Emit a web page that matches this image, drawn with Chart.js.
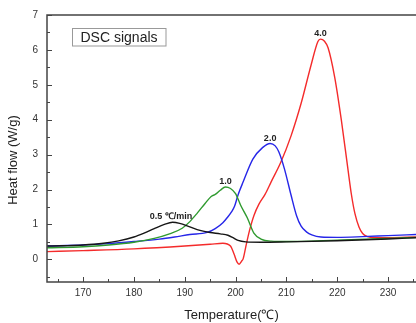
<!DOCTYPE html>
<html>
<head>
<meta charset="utf-8">
<script src="https://cdn.jsdelivr.net/npm/chart.js@4"></script>
<style>
html,body{margin:0;padding:0;background:#fff;}
canvas{display:block;}
</style>
</head>
<body>
<canvas id="c" width="416" height="323"></canvas>
<script>
// ---- data (temperature in °C, heat flow in W/g) ----
const blackT = [162.9,166,170,174,177,180,182,184,186,187.6,189,191,193,195,197,198.5,199.5,200.5,202,205,210,220,230,235.5];
const blackV = [0.38,0.39,0.41,0.46,0.53,0.64,0.75,0.88,1.0,1.06,1.03,0.93,0.83,0.77,0.73,0.69,0.62,0.54,0.50,0.49,0.50,0.53,0.58,0.62];

const greenT = [162.9,170,175,180,184,187,189.5,191,192.5,194,195.2,196,197,198,199,200,201,202.3,203.6,205,207,210,220,230,235.5];
const greenV = [0.33,0.36,0.41,0.49,0.60,0.73,0.89,1.08,1.33,1.60,1.80,1.86,1.98,2.07,2.03,1.88,1.55,1.19,0.75,0.58,0.52,0.51,0.55,0.60,0.63];

const blueT = [162.9,170,175,180,185,188,191,194.4,196,197.5,198.5,199.2,199.8,200.5,201.5,203.4,205.3,206.8,207.8,208.5,209.6,210.9,212,212.9,214,215,216.8,220,225,230,235.5];
const blueV = [0.38,0.41,0.45,0.51,0.58,0.64,0.71,0.77,0.88,1.05,1.22,1.36,1.52,1.85,2.22,2.87,3.20,3.32,3.25,3.08,2.60,1.85,1.25,0.95,0.78,0.70,0.64,0.63,0.65,0.68,0.71];

const redT = [162.9,170,180,190,195,197.5,199,199.7,200.3,200.7,201.2,201.5,202,202.7,203.6,204.6,205.8,207,208.9,210.9,212.9,214.9,216.2,216.7,217.5,218.2,219.5,220.8,222.1,222.8,223.5,224.3,225,226,227,230,235.5];
const redV = [0.22,0.25,0.30,0.38,0.43,0.46,0.38,0.15,-0.08,-0.14,-0.05,0.02,0.35,0.80,1.25,1.58,1.86,2.22,2.78,3.53,4.47,5.59,6.24,6.31,6.25,6.06,5.22,4.00,2.59,1.85,1.30,0.92,0.74,0.65,0.62,0.62,0.64];

const peakLabels = ['0.5 \u2103/min','1.0','2.0','4.0'];
const peakLabelT = [187.3,198.0,206.8,216.7];
const peakLabelV = [1.23,2.22,3.47,6.47];

const xMajorTicks = [170,180,190,200,210,220,230];
const xMinorTicks = [165,175,185,195,205,215,225,235];
const yMajorTicks = [0,1,2,3,4,5,6,7];
const yMinorTicks = [-0.5,0.5,1.5,2.5,3.5,4.5,5.5,6.5];
const xRange = [162.9,235.5];
const yRange = [-0.65,7];

function pts(T,V){return T.map((t,i)=>({x:t,y:V[i]}));}

const FONT = '"Liberation Sans", Arial, sans-serif';

const decor = {
  id:'decor',
  afterDatasetsDraw(chart){
    const ctx = chart.ctx, a = chart.chartArea;
    const xs = chart.scales.x, ys = chart.scales.y;
    ctx.save();
    // ticks (inward)
    ctx.strokeStyle = '#444'; ctx.lineWidth = 1;
    ctx.beginPath();
    xMajorTicks.forEach(v=>{const p=Math.round(xs.getPixelForValue(v))+0.5; ctx.moveTo(p,a.bottom); ctx.lineTo(p,a.bottom-5);});
    xMinorTicks.forEach(v=>{const p=Math.round(xs.getPixelForValue(v))+0.5; if(p<a.right){ctx.moveTo(p,a.bottom); ctx.lineTo(p,a.bottom-3);}});
    yMajorTicks.forEach(v=>{const p=Math.round(ys.getPixelForValue(v))+0.5; ctx.moveTo(a.left,p); ctx.lineTo(a.left+5,p);});
    yMinorTicks.forEach(v=>{const p=Math.round(ys.getPixelForValue(v))+0.5; ctx.moveTo(a.left,p); ctx.lineTo(a.left+3,p);});
    ctx.stroke();
    // frame
    ctx.strokeStyle = '#444'; ctx.lineWidth = 1.5;
    ctx.beginPath();
    ctx.moveTo(a.right+2, a.top); ctx.lineTo(a.left, a.top); ctx.lineTo(a.left, a.bottom); ctx.lineTo(a.right+2, a.bottom);
    ctx.stroke();
    // peak labels
    ctx.fillStyle = '#222';
    ctx.font = 'bold 9px ' + FONT;
    ctx.textAlign = 'center'; ctx.textBaseline = 'middle';
    peakLabels.forEach((t,i)=>{
      ctx.fillText(t, xs.getPixelForValue(peakLabelT[i]), ys.getPixelForValue(peakLabelV[i]));
    });
    // legend box
    ctx.fillStyle = '#fff';
    ctx.fillRect(72.5,28.5,93.5,17.5);
    ctx.strokeStyle = '#999'; ctx.lineWidth = 1;
    ctx.strokeRect(72.5,28.5,93.5,17.5);
    ctx.fillStyle = '#222';
    ctx.font = '14px ' + FONT;
    ctx.textAlign = 'left';
    ctx.fillText('DSC signals', 80.5, 37.8);
    // y title
    ctx.save();
    ctx.translate(13,160);
    ctx.rotate(-Math.PI/2);
    ctx.font = '13px ' + FONT;
    ctx.textAlign = 'center';
    ctx.fillStyle = '#222';
    ctx.fillText('Heat flow (W/g)',0,0);
    ctx.restore();
    ctx.restore();
  }
};

function ds(T,V,color){
  return {data:pts(T,V), borderColor:color, borderWidth:1.4, pointRadius:0, cubicInterpolationMode:'monotone', fill:false};
}

new Chart(document.getElementById('c'),{
  type:'line',
  data:{datasets:[
    ds(blackT,blackV,'#161616'),
    ds(greenT,greenV,'#2f9a2f'),
    ds(blueT,blueV,'#2626e8'),
    ds(redT,redV,'#f42b2b')
  ]},
  options:{
    responsive:false, animation:false, devicePixelRatio:1,
    layout:{padding:{top:11,left:0,right:0,bottom:0}},
    plugins:{legend:{display:false}, tooltip:{enabled:false}},
    scales:{
      x:{type:'linear', min:xRange[0], max:xRange[1],
         grid:{display:false, drawTicks:false}, border:{display:false},
         afterBuildTicks(s){s.ticks = xMajorTicks.map(v=>({value:v}));},
         afterFit(s){s.height = 41;},
         ticks:{padding:5, color:'#333', font:{family:FONT,size:10}},
         title:{display:true, text:'Temperature(\u2103)', color:'#222', font:{family:FONT,size:13}, padding:{top:0,bottom:0}}
      },
      y:{type:'linear', min:yRange[0], max:yRange[1],
         grid:{display:false, drawTicks:false}, border:{display:false},
         afterBuildTicks(s){s.ticks = yMajorTicks.map(v=>({value:v}));},
         afterFit(s){s.width = 47;},
         ticks:{padding:9, color:'#333', font:{family:FONT,size:10}}
      }
    }
  },
  plugins:[decor]
});
</script>
</body>
</html>
